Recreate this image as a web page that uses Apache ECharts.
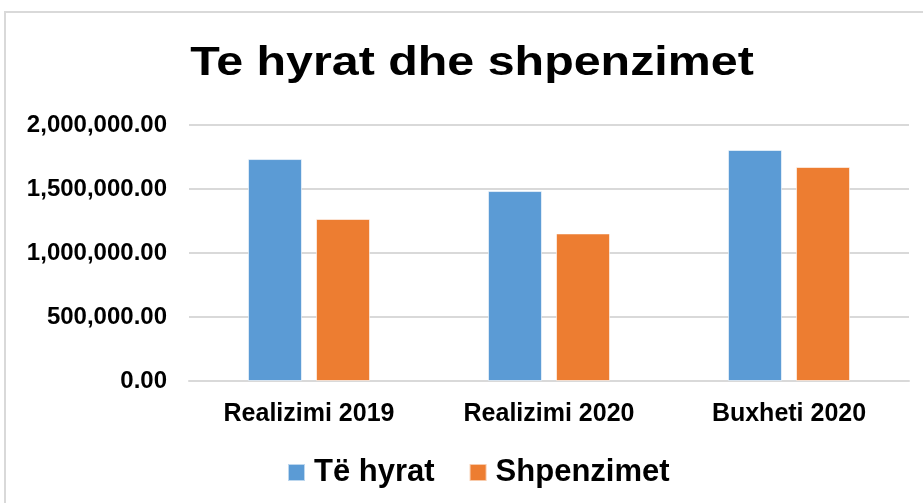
<!DOCTYPE html>
<html>
    <head>
        <meta charset="utf-8">
        <title>Te hyrat dhe shpenzimet</title>
        <script src="https://cdn.jsdelivr.net/npm/echarts@6/dist/echarts.min.js"></script>
        <style>
            html, body { margin: 0; padding: 0; background: #fff; }
        </style>
    </head>
    <body>
        <div id="main" style="width: 923px;height:503px;"></div>
        <script type="text/javascript">
            // te dhenat e lexuara nga grafiku
            var categories = ['Realizimi 2019', 'Realizimi 2020', 'Buxheti 2020'];
            var seriesNames = ['Të hyrat', 'Shpenzimet'];
            var teHyrat = [1734000, 1484000, 1805000];
            var shpenzimet = [1266000, 1153000, 1672000];
            var yTicks = [0, 500000, 1000000, 1500000, 2000000];

            var fontFam = "'Liberation Sans', Arial, sans-serif";
            var myChart = echarts.init(document.getElementById('main'));

            var option = {
                animation: false,
                backgroundColor: '#fff',
                graphic: [
                    {
                        type: 'rect',
                        shape: { x: 5, y: 12, width: 940, height: 520 },
                        style: { fill: 'none', stroke: '#d9d9d9', lineWidth: 2 },
                        silent: true
                    },
                    {
                        type: 'text',
                        x: 472,
                        y: 64,
                        scaleX: 1.18,
                        style: {
                            text: 'Te hyrat dhe shpenzimet',
                            font: 'bold 41px ' + fontFam,
                            fill: '#000',
                            align: 'center',
                            verticalAlign: 'middle'
                        }
                    }
                ],
                grid: {
                    left: 189,
                    right: 14,
                    top: 125,
                    bottom: 122
                },
                legend: {
                    data: seriesNames,
                    left: 282,
                    top: 452,
                    itemWidth: 17,
                    itemHeight: 17,
                    itemGap: 34,
                    selectedMode: false,
                    icon: 'rect',
                    textStyle: {
                        fontFamily: fontFam,
                        fontWeight: 'bold',
                        fontSize: 31,
                        color: '#000',
                        padding: [0, 0, 0, 4]
                    }
                },
                xAxis: {
                    type: 'category',
                    data: categories,
                    axisTick: { show: false },
                    axisLine: { lineStyle: { color: '#d9d9d9', width: 2 } },
                    axisLabel: {
                        margin: 21,
                        fontFamily: fontFam,
                        fontWeight: 'bold',
                        fontSize: 25,
                        color: '#000'
                    }
                },
                yAxis: {
                    type: 'value',
                    min: yTicks[0],
                    max: yTicks[yTicks.length - 1],
                    interval: yTicks[1] - yTicks[0],
                    axisLine: { show: false },
                    axisTick: { show: false },
                    splitLine: { lineStyle: { color: '#d9d9d9', width: 2 } },
                    axisLabel: {
                        margin: 22,
                        fontFamily: fontFam,
                        fontWeight: 'bold',
                        fontSize: 24,
                        color: '#000',
                        formatter: function (v) {
                            return v.toLocaleString('en-US', { minimumFractionDigits: 2, maximumFractionDigits: 2 });
                        }
                    }
                },
                series: [
                    {
                        name: seriesNames[0],
                        type: 'bar',
                        data: teHyrat,
                        barWidth: 54,
                        barGap: '26%',
                        itemStyle: { color: '#5b9bd5', borderColor: 'rgba(255,255,255,0.6)', borderWidth: 1 }
                    },
                    {
                        name: seriesNames[1],
                        type: 'bar',
                        data: shpenzimet,
                        barWidth: 54,
                        itemStyle: { color: '#ed7d31', borderColor: 'rgba(255,255,255,0.6)', borderWidth: 1 }
                    }
                ]
            };

            myChart.setOption(option);
        </script>
    </body>
</html>
